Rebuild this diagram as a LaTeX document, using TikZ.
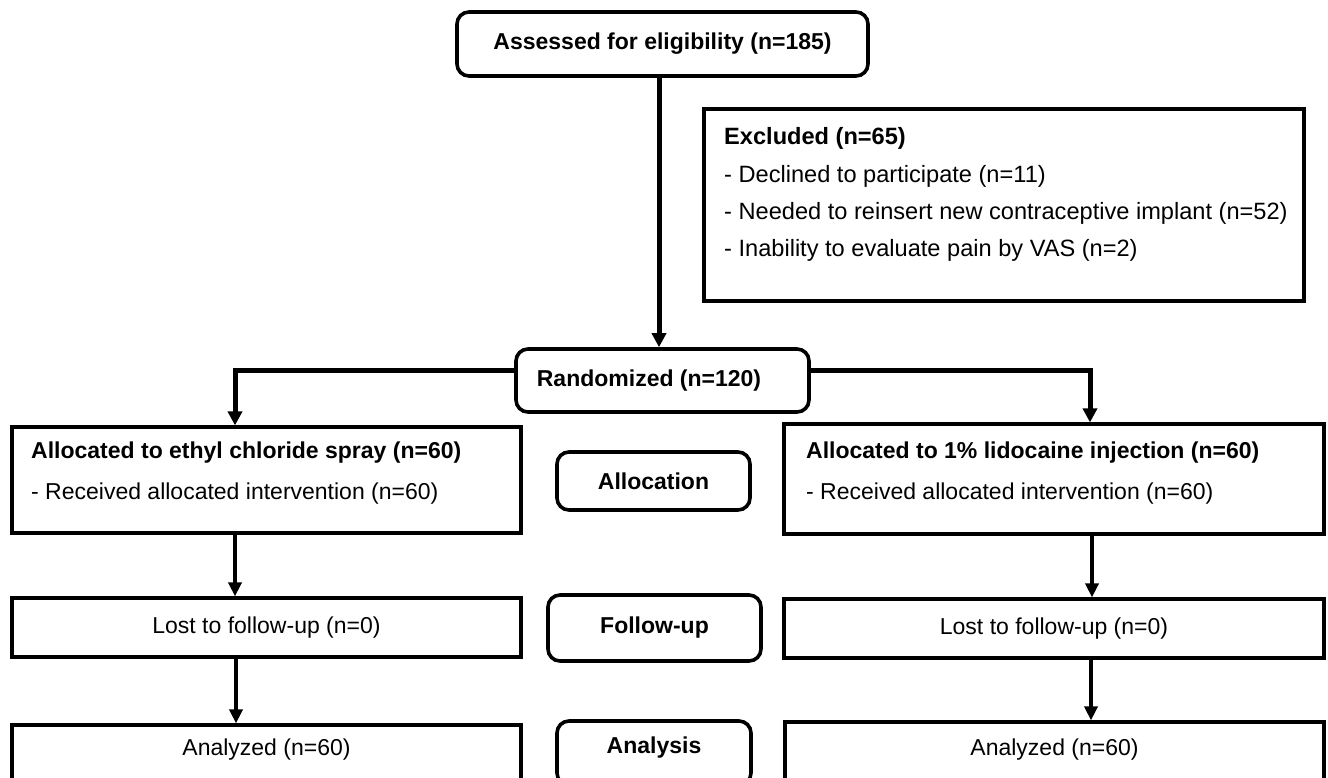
\documentclass[tikz,border=0pt]{standalone}
\usepackage{fontspec}
\setmainfont{Liberation Sans}
\usetikzlibrary{arrows.meta}
\begin{document}
\begin{tikzpicture}[x=1pt,y=-1pt,
  every node/.style={font=\fontsize{23}{27}\selectfont, inner sep=0pt},
  sqbox/.style={draw, line width=3.2pt},
  rndbox/.style={draw, line width=3.6pt, rounded corners=12pt},
  thickarr/.style={line width=5pt, -{Triangle[length=14pt,width=14pt]}},
  thinarr/.style={line width=3.6pt, -{Triangle[length=14pt,width=13pt]}},
  lefttxt/.style={anchor=base west},
  extxt/.style={anchor=base west, font=\fontsize{23.6}{27}\selectfont}
]
\useasboundingbox (0,0) rectangle (1328,777);
\fill[white] (0,0) rectangle (1328,777);
\clip (0,0) rectangle (1328,777);

% boxes
\node[rndbox, minimum width=411pt, minimum height=64pt] (assess) at (662.5,44) {\bfseries Assessed for eligibility (n=185)};
\node[sqbox, minimum width=600pt, minimum height=192pt] (excl) at (1004,205) {};
\node[rndbox, minimum width=293pt, minimum height=63pt] (rand) at (662.5,380.5) {};
\node[anchor=base] (randT) at (649,386) {\bfseries Randomized (n=120)};

\node[sqbox, minimum width=509pt, minimum height=106pt] (alocL) at (266.5,480) {};
\node[rndbox, minimum width=193pt, minimum height=58pt] (alloc) at (653.5,481) {\bfseries Allocation};
\node[sqbox, minimum width=540pt, minimum height=110pt] (alocR) at (1054,479) {};

\node[sqbox, minimum width=509pt, minimum height=59pt] (lostL) at (266.5,627.5) {Lost to follow-up (n=0)};
\node[rndbox, minimum width=213pt, minimum height=66pt] (follow) at (654.5,628) {\bfseries Follow-up};
\node[sqbox, minimum width=540pt, minimum height=59pt] (lostR) at (1054,628.5) {Lost to follow-up (n=0)};

\node[sqbox, minimum width=509pt, minimum height=70pt] (anaL) at (266.5,760) {};
\node (anaLT) at (266.5,750) {Analyzed (n=60)};
\node[rndbox, minimum width=194pt, minimum height=64pt] (analysis) at (654,753) {};
\node (analysisT) at (654,748) {\bfseries Analysis};
\node[sqbox, minimum width=539pt, minimum height=73pt] (anaR) at (1054.5,758.5) {};
\node (anaRT) at (1054.5,750) {Analyzed (n=60)};

% texts
\node[extxt] (exT) at (724,144) {\bfseries Excluded (n=65)};
\node[extxt] (ex1) at (724,182) {- Declined to participate (n=11)};
\node[extxt] (ex2) at (724,219) {- Needed to reinsert new contraceptive implant (n=52)};
\node[extxt] (ex3) at (724,256) {- Inability to evaluate pain by VAS (n=2)};

\node[lefttxt] (alLT) at (31,458) {\bfseries Allocated to ethyl chloride spray (n=60)};
\node[lefttxt] (alL1) at (31,499) {- Received allocated intervention (n=60)};
\node[lefttxt] (alRT) at (806,458) {\bfseries Allocated to 1\% lidocaine injection (n=60)};
\node[lefttxt] (alR1) at (806,499) {- Received allocated intervention (n=60)};

% connectors
\draw[thickarr] ([xshift=-3.5pt]assess.south) -- ([xshift=-3.5pt]assess.south |- rand.north);
\draw[thickarr] ([yshift=10.5pt]rand.west) -| ([xshift=-31.5pt]alocL.north);
\draw[thickarr] ([yshift=10.5pt]rand.east) -| ([xshift=36pt]alocR.north);

\draw[thinarr] ([xshift=-31.5pt]alocL.south) -- ([xshift=-31.5pt]lostL.north);
\draw[thinarr] ([xshift=38pt]alocR.south) -- ([xshift=38pt]lostR.north);
\draw[thinarr] ([xshift=-30.5pt]lostL.south) -- ([xshift=-30.5pt]lostL.south |- anaL.north);
\draw[thinarr] ([xshift=37pt]lostR.south) -- ([xshift=37pt]lostR.south |- anaR.north);
\end{tikzpicture}
\end{document}
